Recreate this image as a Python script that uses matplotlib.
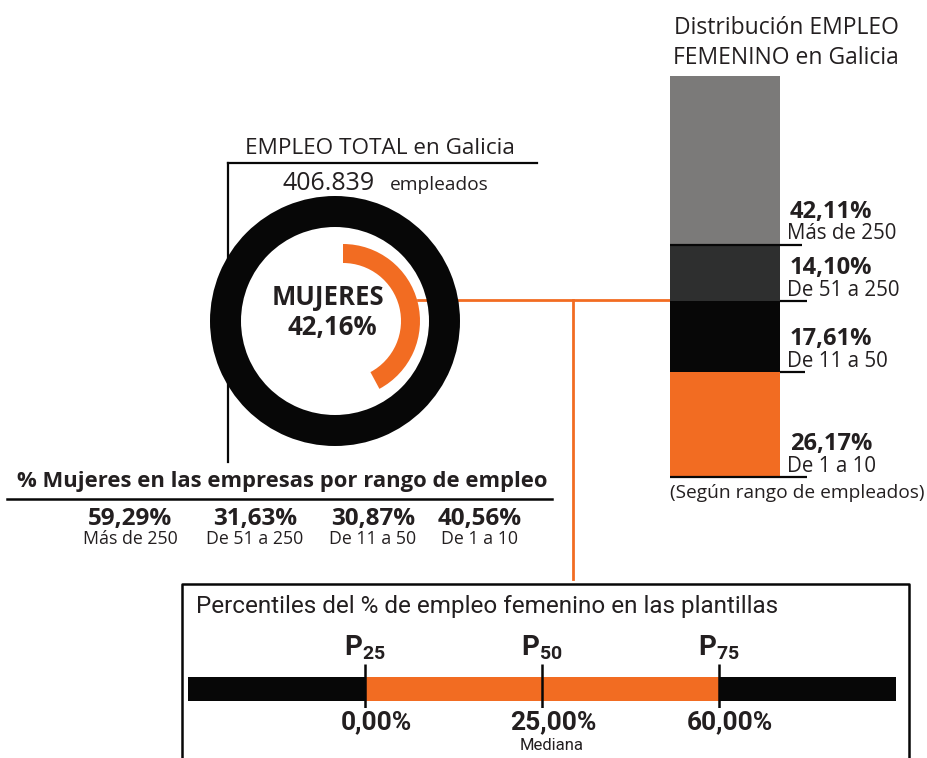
import numpy as np
import matplotlib
matplotlib.use('Agg')
import matplotlib.pyplot as plt
from matplotlib import font_manager

# datos
total_empleo = '406.839'
mujeres_pct = 42.16
rangos = ['Más de 250', 'De 51 a 250', 'De 11 a 50', 'De 1 a 10']
pct_mujeres_rango = [59.29, 31.63, 30.87, 40.56]
dist_femenino = [42.11, 14.10, 17.61, 26.17]      # mismo orden que rangos
dist_colores = ['#7b7a79', '#2e2f2f', '#070707', '#f26c22']
percentiles = [25, 50, 75]
percentil_valores = [0.00, 25.00, 60.00]

NARANJA = '#f26c22'
NEGRO = '#070707'
TXT = '#231f20'


def has_bold(name):
    return any(f.name == name and (f.weight in ('bold', 700) or str(f.weight) == '700')
               for f in font_manager.fontManager.ttflist)


base = 'Open Sans' if has_bold('Open Sans') else 'Roboto'
narrow = 'Roboto'
plt.rcParams['font.family'] = [base, 'DejaVu Sans']
plt.rcParams['mathtext.fontset'] = 'custom'
plt.rcParams['mathtext.rm'] = narrow
plt.rcParams['mathtext.bf'] = narrow + ':bold'


def pct(v):
    return f'{v:.2f}'.replace('.', ',') + '%'


W, H = 928, 758
fig = plt.figure(figsize=(W / 100, H / 100), dpi=100)
fig.patch.set_facecolor('white')

# eje base en pixeles
ax = fig.add_axes([0, 0, 1, 1])
ax.set_xlim(0, W)
ax.set_ylim(H, 0)
ax.axis('off')
ax.patch.set_alpha(0)


def px_axes(x0, y0, x1, y1):
    return fig.add_axes([x0 / W, (H - y1) / H, (x1 - x0) / W, (y1 - y0) / H])


# lineas guia
ax.plot([228, 537], [163, 163], color=NEGRO, lw=1.6)
ax.plot([228, 228], [163, 462], color=NEGRO, lw=1.6)
ax.plot([7, 552], [499, 499], color=NEGRO, lw=1.8)
ax.plot([418, 672], [300, 300], color=NARANJA, lw=2)
ax.plot([573, 573], [300, 579], color=NARANJA, lw=2)
# caja percentiles
ax.plot([182, 182, 909, 909], [H + 5, 584, 584, H + 5], color=NEGRO, lw=1.8)

# textos bloque central
ax.text(380, 148, 'EMPLEO TOTAL en Galicia', ha='center', va='center',
        fontsize=16.2, color=TXT)
ax.text(329, 183, total_empleo, ha='center', va='center', fontsize=18, color=TXT)
ax.text(439, 185, 'empleados', ha='center', va='center', fontsize=13.8, color=TXT)

# donut
dax = px_axes(210, 196, 460, 446)
dax.pie([100], radius=1, colors=[NEGRO], startangle=90,
        wedgeprops=dict(width=31 / 125, linewidth=0))
dax.pie([mujeres_pct, 100 - mujeres_pct], radius=77 / 125, center=(8 / 125, 0),
        colors=[NARANJA, 'none'], startangle=90, counterclock=False,
        wedgeprops=dict(width=19 / 125, linewidth=0))
dax.set_xlim(-1, 1)
dax.set_ylim(-1, 1)
dax.set_aspect('equal')
dax.axis('off')
dax.text(-0.06, 0.19, 'MUJERES', ha='center', va='center', fontsize=18.5,
         fontweight='bold', color=TXT)
dax.text(-0.02, -0.05, pct(mujeres_pct), ha='center', va='center', fontsize=18.5,
         fontweight='bold', color=TXT)

# mujeres por rango
ax.text(282, 481, '% Mujeres en las empresas por rango de empleo', ha='center',
        va='center', fontsize=15.8, fontweight='bold', color=TXT)
for xc, v, lab in zip([130, 255, 373, 480], pct_mujeres_rango, rangos):
    ax.text(xc, 519, pct(v), ha='center', va='center', fontsize=17.5,
            fontweight='bold', color=TXT)
    ax.text(xc, 539, lab, ha='center', va='center', fontsize=12.8, color=TXT)

# barra apilada distribucion
bax = px_axes(670, 76, 780, 477)
orden = list(range(len(rangos)))[::-1]      # de abajo arriba
bottom = 0
tramos = []
for i in orden:
    bax.bar(0, dist_femenino[i], bottom=bottom, width=1, color=dist_colores[i],
            linewidth=0)
    tramos.append((i, bottom))
    bottom += dist_femenino[i]
bax.set_xlim(-0.5, 0.5)
bax.set_ylim(0, bottom)
bax.axis('off')

lin_ext = {0: (0, 1.2), 1: (1, 1.25), 2: (1, 1.23), 3: (0, 1.25)}
for i, b0 in tramos:
    x0, x1 = lin_ext[i]
    bax.plot([x0 - 0.5, x1 - 0.5], [b0, b0], color=NEGRO, lw=1.6, clip_on=False,
             solid_capstyle='butt')
    bax.annotate(pct(dist_femenino[i]), xy=(1, b0),
                 xycoords=('axes fraction', 'data'), xytext=(10, 33),
                 textcoords='offset pixels', ha='left', va='center',
                 fontsize=17, fontweight='bold', color=TXT)
    bax.annotate(rangos[i], xy=(1, b0), xycoords=('axes fraction', 'data'),
                 xytext=(7, 11), textcoords='offset pixels', ha='left',
                 va='center', fontsize=14.8, color=TXT)

ax.text(786, 28, 'Distribución EMPLEO', ha='center', va='center', fontsize=16.5,
        color=TXT)
ax.text(786, 58, 'FEMENINO en Galicia', ha='center', va='center', fontsize=16.5,
        color=TXT)
ax.text(797, 493, '(Según rango de empleados)', ha='center', va='center',
        fontsize=13.8, color=TXT)

# percentiles
ax.text(196, 606, 'Percentiles del % de empleo femenino en las plantillas',
        ha='left', va='center', fontsize=17.5, family=narrow, color=TXT)
pax = px_axes(188, 664, 896, 708)
pax.barh(0.43, 100, left=0, height=0.545, color=NEGRO, linewidth=0)
pax.barh(0.43, percentiles[-1] - percentiles[0], left=percentiles[0],
         height=0.545, color=NARANJA, linewidth=0)
pax.vlines(percentiles, 0, 1, color=NEGRO, lw=1.8)
pax.set_xlim(0, 100)
pax.set_ylim(0, 1)
pax.axis('off')
for p, v in zip(percentiles, percentil_valores):
    pax.text(p, 1.36, r'$\mathbf{P}_{\mathbf{%d}}$' % p, ha='center', va='center',
             fontsize=20, color=TXT)
    pax.text(p + 1.6, -0.32, pct(v), ha='center', va='center', fontsize=19,
             fontweight='bold', family=narrow, color=TXT)
pax.text(percentiles[1] + 1.3, -0.86, 'Mediana', ha='center', va='center',
         fontsize=12, family=narrow, color=TXT)

fig.savefig('out.png', dpi=100, facecolor='white')
